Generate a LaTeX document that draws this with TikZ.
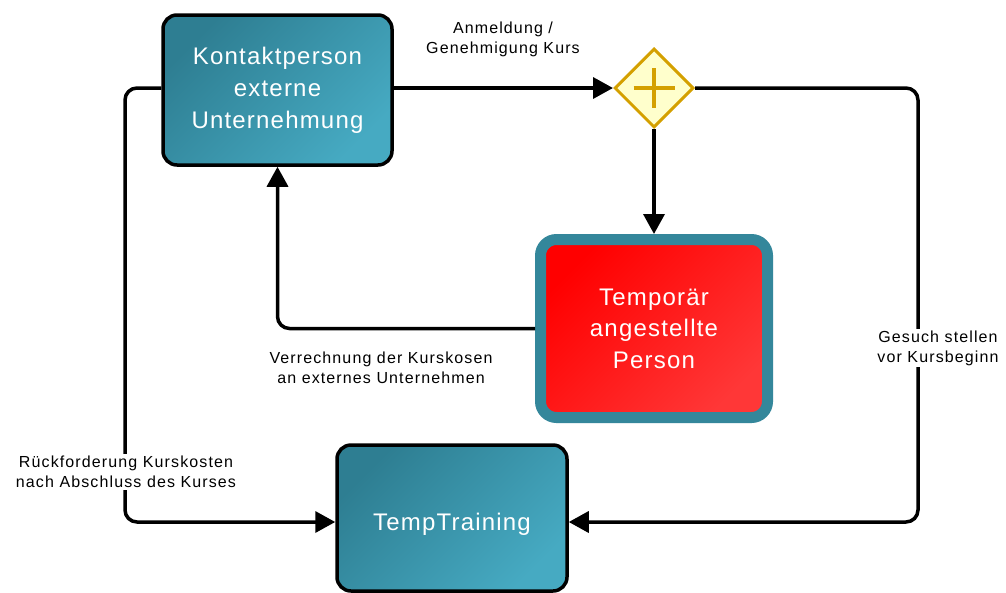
\documentclass[tikz,border=0pt]{standalone}
\usepackage{fontspec}
\setmainfont{Liberation Sans}
\newfontfamily\boxfont[LetterSpace=5]{Liberation Sans}
\newfontfamily\labfont[LetterSpace=7]{Liberation Sans}
\usetikzlibrary{arrows.meta,shapes.geometric}
\definecolor{tealdark}{RGB}{46,126,146}
\definecolor{teallight}{RGB}{70,170,194}
\definecolor{tealborder}{RGB}{52,135,155}
\definecolor{gwfill}{RGB}{255,255,204}
\definecolor{gwline}{RGB}{212,160,0}
\definecolor{redlight}{RGB}{255,55,55}
\begin{document}
\begin{tikzpicture}[x=1pt,y=-1pt,
  proc/.style={rectangle, rounded corners=14pt, draw=black, line width=3.5pt,
    top color=tealdark, bottom color=teallight, shading angle=45,
    minimum width=229pt, minimum height=150pt, inner sep=0pt, align=center,
    text=white, font=\boxfont\fontsize{24}{32}\selectfont},
  person/.style={rectangle, rounded corners=16pt, draw=tealborder, line width=11pt,
    top color=red, bottom color=redlight, shading angle=45,
    minimum width=227pt, minimum height=178pt, inner sep=0pt, align=center,
    text=white, font=\boxfont\fontsize{24}{31.5}\selectfont},
  gate/.style={diamond, draw=gwline, fill=gwfill, line width=3pt,
    minimum width=79pt, minimum height=79pt, inner sep=0pt},
  conn/.style={line width=3.5pt, rounded corners=12pt, -{Triangle[length=20pt,width=21pt]}},
  lab/.style={font=\labfont\fontsize{16}{20}\selectfont, align=center, inner sep=2pt},
  ]
\useasboundingbox (0,0) rectangle (1006,592);
\fill[white] (0,0) rectangle (1006,592);

\node[proc] (k) at (277.5,90) {Kontaktperson\\externe\\Unternehmung};
\node[gate] (gw) at (654,88) {};
\draw[gwline, line width=4pt] (gw.center) ++(-20.5,0) -- ++(41,0);
\draw[gwline, line width=4pt] (gw.center) ++(0,-20) -- ++(0,40);
\node[person] (tp) at (654,328.5) {Temporär\\angestellte\\Person};
\node[proc, minimum width=230pt, minimum height=146pt] (tt) at (452,518) {\raisebox{-6pt}[\height][\depth]{TempTraining}};

\coordinate (rc1) at (918,88);
\coordinate (rc2) at (918,522);
\coordinate (lc1) at (125,88);
\coordinate (lc2) at (125,522);
\coordinate (ttr) at (tt.east |- rc2);
\coordinate (ttl) at (tt.west |- lc2);
\coordinate (kl) at (k.west |- lc1);
\coordinate (kr) at (k.east |- rc1);

\draw[conn] (kr) -- (gw.west);
\draw[conn] (gw.south) -- (tp.north);
\draw[conn] (gw.east) -- (rc1) -- (rc2) -- (ttr);
\draw[conn] (tp.west) -| (k.south);
\draw[conn] (kl) -- (lc1) -- (lc2) -- (ttl);

\node[lab] (l1) at (503,39) {Anmeldung /\\Genehmigung Kurs};
\node[lab, fill=white] (l2) at (938,348) {Gesuch stellen\\vor Kursbeginn};
\node[lab] (l3) at (381,368) {Verrechnung der Kurskosen\\an externes Unternehmen};
\node[lab, fill=white] (l4) at (126,472) {Rückforderung Kurskosten\\nach Abschluss des Kurses};
\end{tikzpicture}
\end{document}
